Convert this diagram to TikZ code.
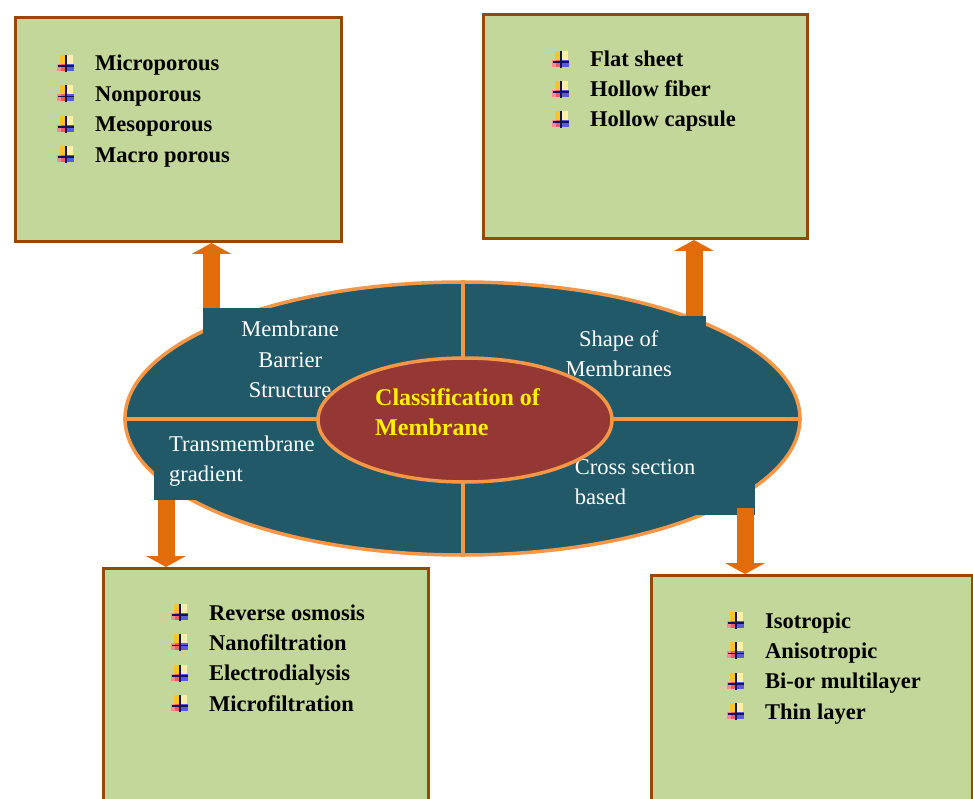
\documentclass[tikz,border=0pt]{standalone}
\usepackage{fontspec}
\setmainfont{Liberation Serif}
\usetikzlibrary{shapes.geometric, arrows.meta}
\definecolor{listbg}{RGB}{196,215,155}
\definecolor{listedge}{RGB}{152,72,6}
\definecolor{ovalbg}{RGB}{33,89,104}
\definecolor{ovaledge}{RGB}{247,150,70}
\definecolor{corebg}{RGB}{149,55,53}
\definecolor{arrowclr}{RGB}{227,108,10}
\definecolor{bulyel}{RGB}{252,196,40}
\definecolor{bulcream}{RGB}{255,238,170}
\definecolor{bulred}{RGB}{240,90,100}
\definecolor{bulblue}{RGB}{90,90,225}
\definecolor{bulline}{RGB}{20,20,90}

\tikzset{
  bul/.pic={
    \fill[bulyel]   (-6,-9) rectangle (0,0);
    \fill[bulcream] (0,-9) rectangle (7,0);
    \fill[bulred!70] (-9,0) rectangle (-5,7);
    \fill[bulred]   (-5,0) rectangle (0,7);
    \fill[bulblue]  (0,0) rectangle (8,7);
    \draw[bulline, line width=1.5pt] (0,-9) -- (0,8) (-8,2) -- (8,2);
  }
}

\begin{document}
\begin{tikzpicture}[
    x=1pt, y=-1pt,
    font=\fontsize{22.5}{30.4}\selectfont,
    % --- node styles ---
    listbox/.style={draw=listedge, line width=3pt, fill=listbg,
                    anchor=north west, inner sep=0pt},
    item/.style   ={anchor=base west, inner sep=0pt,
                    font=\fontsize{22.5}{30.4}\selectfont\bfseries},
    tag/.style    ={fill=ovalbg, text=white, inner xsep=15pt},
    oval/.style   ={ellipse, draw=ovaledge, line width=3.5pt, inner sep=0pt},
    % --- wire styles ---
    fatarrow/.style={arrowclr, line width=17pt,
                    -{Triangle[length=11pt, width=40pt, line width=0pt]}},
    divider/.style={ovaledge, line width=4pt},
]
\useasboundingbox (0,0) rectangle (973,799);
\clip (0,0) rectangle (973,799);

% =============== list boxes ===============
\node[listbox, minimum width=326, minimum height=224] (porebox)    at (14,16)  {};
\node[listbox, minimum width=324, minimum height=224] (geombox)    at (482,13) {};
\node[listbox, minimum width=325, minimum height=260] (processbox) at (102,567) {};
\node[listbox, minimum width=321, minimum height=260] (layerbox)   at (650,574) {};

\foreach \txt [count=\i] in {Microporous, Nonporous, Mesoporous, Macro porous} {
  \node[item] (pore\i) at (95, {71+30.4*(\i-1)}) {\txt};
  \pic at ([xshift=-29, yshift=7]pore\i.base west) {bul};
}
\foreach \txt [count=\i] in {Flat sheet, Hollow fiber, Hollow capsule} {
  \node[item] (geom\i) at (590, {67+30*(\i-1)}) {\txt};
  \pic at ([xshift=-29, yshift=7]geom\i.base west) {bul};
}
\foreach \txt [count=\i] in {Reverse osmosis, Nanofiltration, Electrodialysis, Microfiltration} {
  \node[item] (process\i) at (209, {620+30.4*(\i-1)}) {\txt};
  \pic at ([xshift=-29, yshift=7]process\i.base west) {bul};
}
\foreach \txt [count=\i] in {Isotropic, Anisotropic, Bi-or multilayer, Thin layer} {
  \node[item] (layer\i) at (765, {628+30.4*(\i-1)}) {\txt};
  \pic at ([xshift=-29, yshift=7]layer\i.base west) {bul};
}

% =============== central oval ===============
\node[oval, fill=ovalbg, minimum width=675, minimum height=273] (outer) at (462.5,418.5) {};

\node[tag, anchor=north west, inner ysep=13pt, minimum width=174, align=center]
      (barrier) at (203,308) {Membrane\\Barrier\\Structure};
\node[tag, anchor=north east, inner ysep=14pt, minimum width=174, align=center]
      (shapelbl) at (706,316) {Shape of\\Membranes};
\node[tag, anchor=south west, inner ysep=13pt, align=left]
      (gradient) at (154,500) {Transmembrane\\gradient};
\node[tag, anchor=south east, inner ysep=10pt, text width=165, align=flush left]
      (layerlbl) at (755,515) {Cross section\\based};

\draw[divider] (outer.north) -- (outer.south);
\draw[divider] (outer.west) -- (outer.east);

\node[oval, fill=corebg, minimum width=294, minimum height=124] (core) at (465,420) {};
\node[anchor=north west, inner sep=0pt, text=yellow, align=left,
      font=\fontsize{24}{30}\selectfont\bfseries]
      (title) at (375,388.5) {Classification of\\Membrane};

% =============== arrows ===============
\coordinate (a1) at ([xshift=8.5]barrier.north west);
\coordinate (a2) at ([xshift=-12]shapelbl.north east);
\coordinate (a3) at ([xshift=12]gradient.south west);
\coordinate (a4) at ([xshift=-10, yshift=7]layerlbl.south east);
\draw[fatarrow] (a1) -- (a1 |- porebox.south);
\draw[fatarrow] (a2) -- (a2 |- geombox.south);
\draw[fatarrow] (a3) -- (a3 |- processbox.north);
\draw[fatarrow] (a4) -- (a4 |- layerbox.north);

\end{tikzpicture}
\end{document}
